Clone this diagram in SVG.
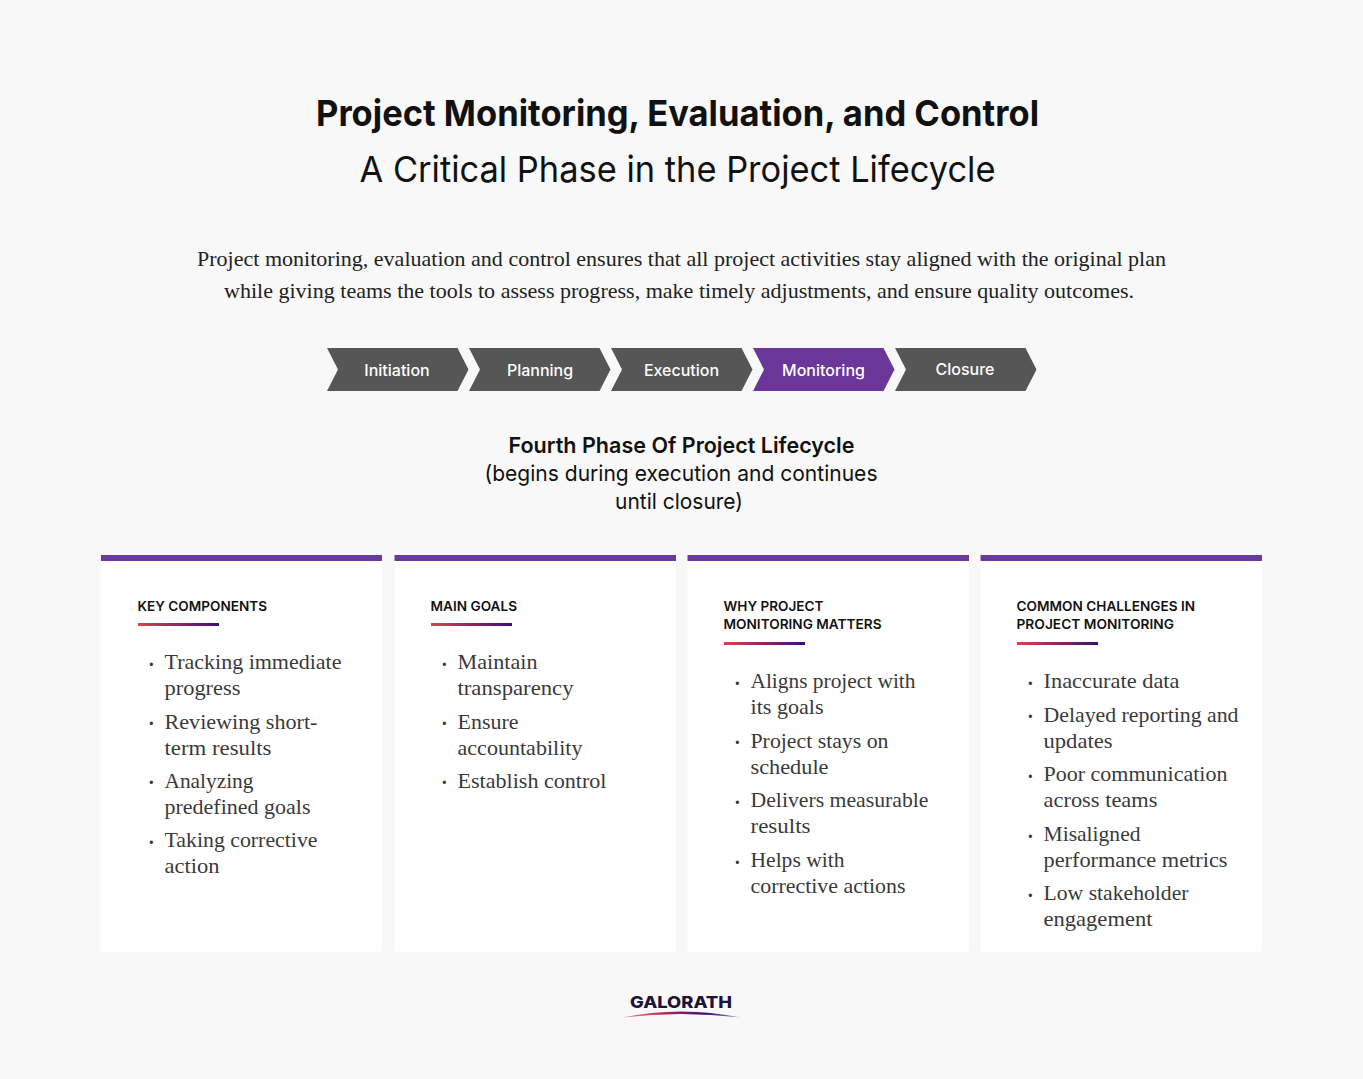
<svg xmlns="http://www.w3.org/2000/svg" width="1363" height="1079" viewBox="0 0 1363 1079">
<style>
text{font-family:Inter,"Liberation Sans",sans-serif}
.t{font-size:36px;fill:#111;text-anchor:middle}
.p{font-family:"Liberation Serif",serif;font-size:21.5px;fill:#222}
.c{font-size:16px;font-weight:500;fill:#fff;text-anchor:middle}
.s{font-size:22px;fill:#111;text-anchor:middle}
.h{font-size:13.500px;font-weight:600;fill:#111}
.i{font-family:"Liberation Serif",serif;font-size:22px;fill:#3a3a3a}
.b{font-family:"Liberation Serif",serif;font-size:20px;font-weight:700;fill:#3a3a3a}
.card{fill:#fff}.bar{fill:#6a3a9c}
.g{fill:#565656}.m{fill:#6a3799}
</style>
<defs>
<linearGradient id="u"><stop offset="0" stop-color="#e0404a"/><stop offset="1" stop-color="#3a0f78"/></linearGradient>
<linearGradient id="l"><stop offset="0" stop-color="#e08a95"/><stop offset=".3" stop-color="#c8304e"/><stop offset=".7" stop-color="#3a0f78"/><stop offset="1" stop-color="#a090c0"/></linearGradient>
<path id="chev" d="M0 0H130.500L141.500 21.500L130.500 43H0L11 21.500Z"/>
</defs>
<rect width="1363" height="1079" fill="#f8f8f8"/>
<g id="header">
<text class="t" x="677.500" y="126" font-weight="700" textLength="723" lengthAdjust="spacingAndGlyphs">Project Monitoring, Evaluation, and Control</text>
<text class="t" x="677.500" y="182" textLength="636" lengthAdjust="spacingAndGlyphs">A Critical Phase in the Project Lifecycle</text>
<text class="p" x="197" y="266" textLength="969" lengthAdjust="spacingAndGlyphs">Project monitoring, evaluation and control ensures that all project activities stay aligned with the original plan</text>
<text class="p" x="224" y="298" textLength="910" lengthAdjust="spacingAndGlyphs">while giving teams the tools to assess progress, make timely adjustments, and ensure quality outcomes.</text>
</g>
<g id="phase-initiation"><use href="#chev" class="g" x="327" y="348"/><text class="c" x="397" y="375.500">Initiation</text></g>
<g id="phase-planning"><use href="#chev" class="g" x="469" y="348"/><text class="c" x="540" y="375.500">Planning</text></g>
<g id="phase-execution"><use href="#chev" class="g" x="611" y="348"/><text class="c" x="681.500" y="375.500">Execution</text></g>
<g id="phase-monitoring"><use href="#chev" class="m" x="753" y="348"/><text class="c" x="823.500" y="375.500">Monitoring</text></g>
<g id="phase-closure"><use href="#chev" class="g" x="895" y="348"/><text class="c" x="965" y="374.500">Closure</text></g>
<g id="subtitle">
<text class="s" x="681.500" y="453" font-weight="600" textLength="346" lengthAdjust="spacingAndGlyphs">Fourth Phase Of Project Lifecycle</text>
<text class="s" x="681" y="481" textLength="393" lengthAdjust="spacingAndGlyphs">(begins during execution and continues</text>
<text class="s" x="679" y="509" textLength="128" lengthAdjust="spacingAndGlyphs">until closure)</text>
</g>
<g id="card-key-components">
<rect class="card" x="101" y="555" width="281" height="396.500"/><rect class="bar" x="101" y="555" width="281" height="6"/>
<text class="h" x="137.500" y="611" textLength="129.500" lengthAdjust="spacingAndGlyphs">KEY COMPONENTS</text>
<rect x="138" y="623" width="81" height="3" fill="url(#u)"/>
<text class="b" x="148" y="671">·</text><text class="i" x="164.500" y="669" textLength="177" lengthAdjust="spacingAndGlyphs">Tracking immediate</text><text class="i" x="164.500" y="695" textLength="76" lengthAdjust="spacingAndGlyphs">progress</text>
<text class="b" x="148" y="730">·</text><text class="i" x="164.500" y="729" textLength="153" lengthAdjust="spacingAndGlyphs">Reviewing short-</text><text class="i" x="164.500" y="755" textLength="107" lengthAdjust="spacingAndGlyphs">term results</text>
<text class="b" x="148" y="789">·</text><text class="i" x="164.500" y="788" textLength="89" lengthAdjust="spacingAndGlyphs">Analyzing</text><text class="i" x="164.500" y="814" textLength="146" lengthAdjust="spacingAndGlyphs">predefined goals</text>
<text class="b" x="148" y="849">·</text><text class="i" x="164.500" y="847" textLength="153" lengthAdjust="spacingAndGlyphs">Taking corrective</text><text class="i" x="164.500" y="873" textLength="55" lengthAdjust="spacingAndGlyphs">action</text>
</g>
<g id="card-main-goals">
<rect class="card" x="394.500" y="555" width="281.500" height="396.500"/><rect class="bar" x="394.500" y="555" width="281.500" height="6"/>
<text class="h" x="430.500" y="611" textLength="86.500" lengthAdjust="spacingAndGlyphs">MAIN GOALS</text>
<rect x="431" y="623" width="81" height="3" fill="url(#u)"/>
<text class="b" x="441" y="671">·</text><text class="i" x="457.500" y="669" textLength="80" lengthAdjust="spacingAndGlyphs">Maintain</text><text class="i" x="457.500" y="695" textLength="116" lengthAdjust="spacingAndGlyphs">transparency</text>
<text class="b" x="441" y="730">·</text><text class="i" x="457.500" y="729" textLength="61" lengthAdjust="spacingAndGlyphs">Ensure</text><text class="i" x="457.500" y="755" textLength="125" lengthAdjust="spacingAndGlyphs">accountability</text>
<text class="b" x="441" y="789">·</text><text class="i" x="457.500" y="788" textLength="149" lengthAdjust="spacingAndGlyphs">Establish control</text>
</g>
<g id="card-why-matters">
<rect class="card" x="687.500" y="555" width="281.500" height="396.500"/><rect class="bar" x="687.500" y="555" width="281.500" height="6"/>
<text class="h" x="723.500" y="611" textLength="100" lengthAdjust="spacingAndGlyphs">WHY PROJECT</text><text class="h" x="723.500" y="629" textLength="158" lengthAdjust="spacingAndGlyphs">MONITORING MATTERS</text>
<rect x="724" y="642" width="81" height="3" fill="url(#u)"/>
<text class="b" x="734" y="690">·</text><text class="i" x="750.500" y="688" textLength="165" lengthAdjust="spacingAndGlyphs">Aligns project with</text><text class="i" x="750.500" y="714" textLength="73" lengthAdjust="spacingAndGlyphs">its goals</text>
<text class="b" x="734" y="749">·</text><text class="i" x="750.500" y="748" textLength="138" lengthAdjust="spacingAndGlyphs">Project stays on</text><text class="i" x="750.500" y="774" textLength="78" lengthAdjust="spacingAndGlyphs">schedule</text>
<text class="b" x="734" y="809">·</text><text class="i" x="750.500" y="807" textLength="178" lengthAdjust="spacingAndGlyphs">Delivers measurable</text><text class="i" x="750.500" y="833" textLength="60" lengthAdjust="spacingAndGlyphs">results</text>
<text class="b" x="734" y="869">·</text><text class="i" x="750.500" y="867" textLength="94" lengthAdjust="spacingAndGlyphs">Helps with</text><text class="i" x="750.500" y="893" textLength="155" lengthAdjust="spacingAndGlyphs">corrective actions</text>
</g>
<g id="card-challenges">
<rect class="card" x="980.500" y="555" width="281.500" height="396.500"/><rect class="bar" x="980.500" y="555" width="281.500" height="6"/>
<text class="h" x="1016.500" y="611" textLength="178.500" lengthAdjust="spacingAndGlyphs">COMMON CHALLENGES IN</text><text class="h" x="1016.500" y="629" textLength="157.500" lengthAdjust="spacingAndGlyphs">PROJECT MONITORING</text>
<rect x="1017" y="642" width="81" height="3" fill="url(#u)"/>
<text class="b" x="1027" y="690">·</text><text class="i" x="1043.500" y="688" textLength="136" lengthAdjust="spacingAndGlyphs">Inaccurate data</text>
<text class="b" x="1027" y="723">·</text><text class="i" x="1043.500" y="722" textLength="195" lengthAdjust="spacingAndGlyphs">Delayed reporting and</text><text class="i" x="1043.500" y="748" textLength="69" lengthAdjust="spacingAndGlyphs">updates</text>
<text class="b" x="1027" y="783">·</text><text class="i" x="1043.500" y="781" textLength="184" lengthAdjust="spacingAndGlyphs">Poor communication</text><text class="i" x="1043.500" y="807" textLength="114" lengthAdjust="spacingAndGlyphs">across teams</text>
<text class="b" x="1027" y="843">·</text><text class="i" x="1043.500" y="841" textLength="97" lengthAdjust="spacingAndGlyphs">Misaligned</text><text class="i" x="1043.500" y="867" textLength="184" lengthAdjust="spacingAndGlyphs">performance metrics</text>
<text class="b" x="1027" y="902">·</text><text class="i" x="1043.500" y="900" textLength="145" lengthAdjust="spacingAndGlyphs">Low stakeholder</text><text class="i" x="1043.500" y="926" textLength="109" lengthAdjust="spacingAndGlyphs">engagement</text>
</g>
<g id="logo">
<text x="681" y="1008" text-anchor="middle" font-size="16" font-weight="800" fill="#1d1238" textLength="102" lengthAdjust="spacingAndGlyphs">GALORATH</text>
<path d="M622 1017.500Q681 1005.500 741 1017.500Q681 1010.500 622 1017.500Z" fill="url(#l)"/>
</g>
</svg>
